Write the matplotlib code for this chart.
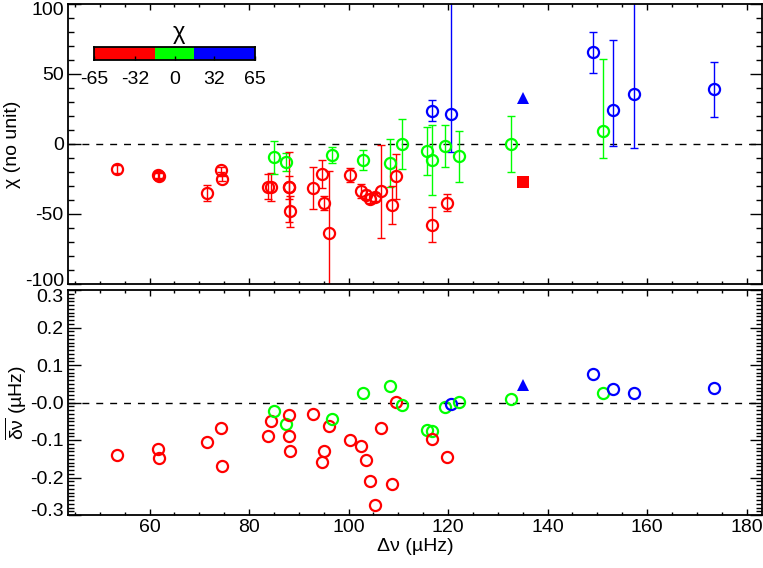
import numpy as np
import matplotlib
matplotlib.use("Agg")
import matplotlib.pyplot as plt
from matplotlib.colors import ListedColormap, BoundaryNorm
from matplotlib.ticker import MultipleLocator, FixedLocator, FixedFormatter
import matplotlib.transforms as mtransforms

plt.rcParams['font.family'] = ['Liberation Sans', 'DejaVu Sans']
plt.rcParams['axes.unicode_minus'] = False
plt.rcParams['mathtext.fontset'] = 'custom'
plt.rcParams['mathtext.rm'] = 'Liberation Sans'
plt.rcParams['mathtext.it'] = 'Liberation Sans'
plt.rcParams['mathtext.bf'] = 'Liberation Sans:bold'

# ---------------- data ----------------
dnu = [53.5, 61.6, 61.9, 71.6, 74.3, 74.5, 83.8, 84.5, 85.0, 87.5,
       88.0, 88.1, 88.2, 92.8, 94.6, 95.1, 96.1, 96.6, 100.3, 102.5,
       102.8, 103.5, 104.4, 105.3, 106.6, 108.3, 108.8, 109.6, 110.7, 115.7,
       116.7, 116.7, 116.7, 119.4, 119.8, 120.5, 122.2, 132.6, 149.2, 151.2,
       153.2, 157.4, 173.4]
chi = [-18, -22, -23, -35, -18.3, -24.7, -30.5, -30.5, -9.5, -12.6,
       -31, -31, -48, -31.4, -21.4, -42, -63.6, -7.6, -22.4, -33.3,
       -11.6, -36.2, -39, -38, -33.8, -13.6, -43.8, -23, 0, -5.2,
       -11.2, 23.9, -57.6, -1.6, -42, 21.4, -8.8, 0, 65.5, 9,
       24.6, 35.7, 39.6]
chi_err_lo = [3, 2, 2, 5.5, 2, 2, 9, 10, 12, 6.5,
              25, 8, 11, 15, 10, 5, 44, 5.8, 5, 5,
              7, 3, 3, 3, 33, 17, 13.5, 16, 18, 17,
              25, 7.7, 12.5, 15, 6, 27, 18, 20, 14.7, 19,
              26, 38.6, 20.6]
chi_err_hi = [3, 2, 2, 5.5, 2, 2, 9, 10, 12, 6.5,
              25, 8, 11, 15, 10, 5, 44, 5.8, 5, 5,
              7, 3, 3, 3, 33, 17, 13.5, 16, 18, 17,
              25, 7.7, 12.5, 15, 6, 85, 18, 20, 14.7, 52,
              50, 70, 19]
dnu_shift = [-0.1405, -0.123, -0.147, -0.105, -0.0685, -0.169, -0.089, -0.049, -0.0224, -0.058,
             -0.033, -0.089, -0.129, -0.0294, -0.158, -0.129, -0.062, -0.0445, -0.1005, -0.117,
             0.0248, -0.153, -0.209, -0.274, -0.0693, 0.0427, -0.218, 0.0016, -0.0064, -0.073,
             -0.076, np.nan, -0.098, -0.0107, -0.144, -0.0045, 0.0016, 0.0088, 0.0755, 0.0248,
             0.0355, 0.0248, 0.040]

# special stars
sq_dnu, sq_chi = [135.0], [-27.0]
tri_dnu, tri_chi, tri_shift = [135.0], [33.0], [0.046]

# colour scale
cb_bounds = [-65, -16, 16, 65]
cb_colors = ['#ff0000', '#00ff00', '#0000ff']
cb_ticks = [-65, -32, 0, 32, 65]
cmap = ListedColormap(cb_colors)
norm = BoundaryNorm(cb_bounds, cmap.N, clip=True)

top_yticks = [-100, -50, 0, 50, 100]
bot_yticks = [-0.3, -0.2, -0.1, 0.0, 0.1, 0.2, 0.3]
bot_ylabels = ['-0.3', '-0.2', '-0.1', '-0.0', '0.1', '0.2', '0.3']

FS = 14

fig = plt.figure(figsize=(7.63, 5.68), dpi=100)
W, H = 763.0, 568.0
L, R = 68, 762
ax1 = fig.add_axes([L / W, 1 - 284 / H, (R - L) / W, 280 / H])
ax2 = fig.add_axes([L / W, 1 - 515 / H, (R - L) / W, 225 / H])

# ---------------- top panel ----------------
for x, c, lo, hi in zip(dnu, chi, chi_err_lo, chi_err_hi):
    col = cmap(norm(c))
    ax1.errorbar([x], [c], yerr=[[lo], [hi]], fmt='none', ecolor=col,
                 elinewidth=1.0, capsize=3.0, capthick=1.0, zorder=2)
for x, c in zip(dnu, chi):
    col = cmap(norm(c))
    ax1.plot([x], [c], 'o', mfc='none', mec=col, ms=8.0, mew=1.6, zorder=3)
ax1.plot(sq_dnu, sq_chi, 's', color=cmap(norm(sq_chi[0])), ms=8, mew=0, zorder=3)
ax1.plot(tri_dnu, tri_chi, '^', color=cmap(norm(tri_chi[0])), ms=8, mew=0, zorder=3)
ax1.axhline(0, color='k', lw=1.0, ls=(0, (5, 5)), zorder=1)

ax1.set_xlim(43.6, 183.1)
ax1.set_ylim(-100, 100)
ax1.set_ylabel('χ (no unit)', fontsize=FS, labelpad=3)
ax1.yaxis.set_major_locator(FixedLocator(top_yticks))
ax1.yaxis.set_major_formatter(FixedFormatter([str(t) for t in top_yticks]))
ax1.yaxis.set_minor_locator(MultipleLocator(10))
ax1.xaxis.set_major_locator(MultipleLocator(20))
ax1.xaxis.set_minor_locator(MultipleLocator(5))
ax1.set_xticklabels([])

# ---------------- bottom panel ----------------
for x, v, c in zip(dnu, dnu_shift, chi):
    if np.isnan(v):
        continue
    ax2.plot([x], [v], 'o', mfc='none', mec=cmap(norm(c)), ms=8.0, mew=1.6, zorder=3)
ax2.plot(tri_dnu, tri_shift, '^', color=cmap(norm(tri_chi[0])), ms=8, mew=0, zorder=3)
ax2.axhline(0, color='k', lw=1.0, ls=(0, (5, 5)), zorder=1)
ax2.set_xlim(43.6, 183.1)
ax2.set_ylim(-0.3, 0.3)
ax2.yaxis.set_major_locator(FixedLocator(bot_yticks))
ax2.yaxis.set_major_formatter(FixedFormatter(bot_ylabels))
ax2.yaxis.set_minor_locator(MultipleLocator(0.01))
ax2.xaxis.set_major_locator(MultipleLocator(20))
ax2.xaxis.set_minor_locator(MultipleLocator(5))
ax2.set_xlabel('Δν (µHz)', fontsize=FS, labelpad=1)
ax2.set_ylabel(r'$\overline{\delta\nu}$ (µHz)', fontsize=FS, labelpad=1)

for ax in (ax1, ax2):
    for s in ax.spines.values():
        s.set_linewidth(1.3)
    ax.tick_params(which='both', direction='in', top=True, right=True,
                   labelsize=FS, width=1.0, pad=3)
    ax.tick_params(axis='y', which='major', length=9)
    ax.tick_params(axis='y', which='minor', length=4.5)
    ax.tick_params(axis='x', which='major', length=4)
    ax.tick_params(axis='x', which='minor', length=2.5)

# nudge edge labels inward like the original
def nudge(ax, dy_pts):
    ticks = ax.yaxis.get_major_ticks()
    off_up = mtransforms.ScaledTranslation(0, dy_pts / 72, fig.dpi_scale_trans)
    off_dn = mtransforms.ScaledTranslation(0, -dy_pts / 72, fig.dpi_scale_trans)
    lab0 = ticks[0].label1
    lab0.set_transform(lab0.get_transform() + off_up)
    lab1 = ticks[-1].label1
    lab1.set_transform(lab1.get_transform() + off_dn)

nudge(ax2, 4.0)
nudge(ax1, 3.0)

# ---------------- colour bar ----------------
cax = fig.add_axes([94 / W, 1 - 60 / H, 161 / W, 13 / H])
edges = np.linspace(-65, 65, 261)
mids = 0.5 * (edges[:-1] + edges[1:])
cax.pcolormesh(edges, [0, 1], mids[np.newaxis, :], cmap=cmap, norm=norm, shading='flat')
cax.set_xlim(-65, 65)
cax.set_ylim(0, 1)
cax.set_yticks([])
cax.set_xticks(cb_ticks)
cax.set_xticklabels([str(t) for t in cb_ticks])
cax.tick_params(axis='x', direction='in', length=3, width=1.0, labelsize=FS, pad=8)
for s in cax.spines.values():
    s.set_linewidth(1.3)
cax.text(0.53, 1.25, 'χ', transform=cax.transAxes, ha='center', va='bottom',
         fontsize=FS + 3)

fig.savefig('out.png', dpi=100)
